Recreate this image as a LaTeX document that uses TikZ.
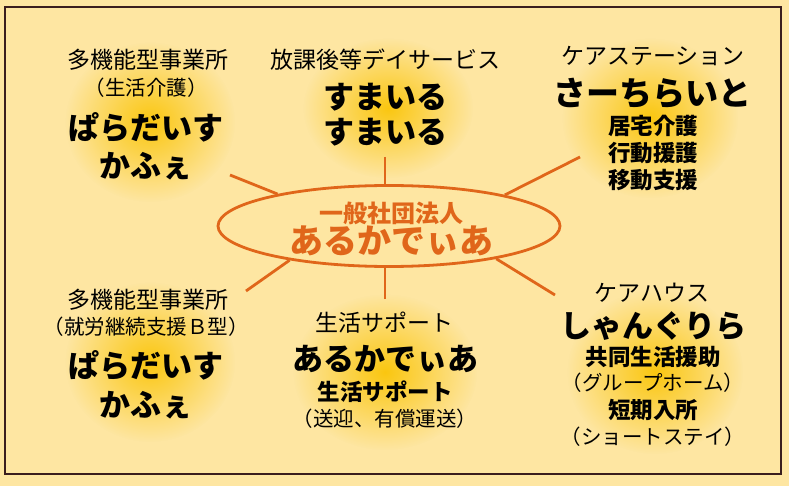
\documentclass[tikz,border=0pt]{standalone}
\usepackage{fontspec}
\setmainfont{Noto Sans CJK JP}
\usetikzlibrary{fadings,shapes.geometric}
\definecolor{bg}{HTML}{FEE6A2}
\definecolor{edge}{HTML}{3A1E1E}
\definecolor{org}{HTML}{E0661A}
\definecolor{glow}{HTML}{FAC300}
\tikzfading[name=glowfade, inner color=transparent!10, outer color=transparent!100]
\tikzset{
  hdr/.style={font=\fontsize{23}{23}\selectfont, inner sep=0pt},
  ttl/.style={font=\bfseries\fontsize{31}{31}\selectfont, inner sep=0pt},
  sub/.style={font=\bfseries\fontsize{22.5}{22.5}\selectfont, inner sep=0pt},
  par/.style={font=\fontsize{20.5}{20.5}\selectfont, inner sep=0pt},
  ray/.style={draw=org, line width=2.8pt},
  glowspot/.style={fill=glow, path fading=glowfade}
}
\begin{document}
\begin{tikzpicture}[x=1pt,y=-1pt]
\useasboundingbox (0,0) rectangle (789,486);
\fill[bg] (0,0) rectangle (789,486);
% glows
\fill[glowspot] (150,122) ellipse (85 and 80);
\fill[glowspot] (388,108) ellipse (85 and 70);
\fill[glowspot] (650,118) ellipse (88 and 80);
\fill[glowspot] (150,362) ellipse (85 and 80);
\fill[glowspot] (385,372) ellipse (92 and 78);
\fill[glowspot] (655,372) ellipse (88 and 82);
% frame
\draw[edge, line width=1.4pt] (5,7) rectangle (781,474);
% hub
\node[ellipse, draw=org, line width=2.8pt, minimum width=342pt, minimum height=81pt, inner sep=0pt] (hub) at (389,226) {};
\node[font=\bfseries\fontsize{24}{24}\selectfont, text=org, inner sep=0pt] (hubA) at (391,213) {一般社団法人};
\node[font=\bfseries\fontsize{34}{34}\selectfont, text=org, inner sep=0pt] (hubB) at (391,241) {あるかでぃあ};
% ray ends
\coordinate (rUL) at (230,175);
\coordinate (rT) at (385,157);
\coordinate (rUR) at (580,157);
\coordinate (rLL) at (246,291);
\coordinate (rB) at (385,299);
\coordinate (rLR) at (555,295);
\draw[ray] (rUL) -- (hub.164.5);
\draw[ray] (rT) -- (hub.north -| rT);
\draw[ray] (rUR) -- (hub.15.9);
\draw[ray] (rLL) -- (hub.199.2);
\draw[ray] (rB) -- (hub.south -| rB);
\draw[ray] (rLR) -- (hub.343.4);
% top left
\node[hdr] (a1) at (148,60) {多機能型事業所};
\node[par] (a2) at (146,88) {（生活介護）};
\node[ttl] (a3) at (146,128) {ぱらだいす};
\node[ttl] (a4) at (146,166) {かふぇ};
% top center
\node[hdr] (b1) at (385,60) {放課後等デイサービス};
\node[ttl] (b2) at (385,97) {すまいる};
\node[ttl] (b3) at (385,132) {すまいる};
% top right
\node[hdr] (c1) at (653,56) {ケアステーション};
\node[ttl, font=\bfseries\fontsize{33}{33}\selectfont] (c2) at (652,93) {さーちらいと};
\node[sub] (c3) at (653,126) {居宅介護};
\node[sub] (c4) at (653,153) {行動援護};
\node[sub] (c5) at (653,180) {移動支援};
% bottom left
\node[hdr] (d1) at (148,300) {多機能型事業所};
\node[par] (d2) at (146,327) {（就労継続支援Ｂ型）};
\node[ttl] (d3) at (146,366) {ぱらだいす};
\node[ttl] (d4) at (146,405) {かふぇ};
% bottom center
\node[hdr] (e1) at (384,323) {生活サポート};
\node[ttl] (e2) at (385,359) {あるかでぃあ};
\node[sub] (e3) at (385,392) {生活サポート};
\node[par] (e4) at (385,419) {（送迎、有償運送）};
% bottom right
\node[hdr] (f1) at (652,293) {ケアハウス};
\node[ttl] (f2) at (653,326) {しゃんぐりら};
\node[sub] (f3) at (653,357) {共同生活援助};
\node[par] (f4) at (653,383) {（グループホーム）};
\node[sub] (f5) at (653,410) {短期入所};
\node[par] (f6) at (653,437) {（ショートステイ）};
\end{tikzpicture}
\end{document}
